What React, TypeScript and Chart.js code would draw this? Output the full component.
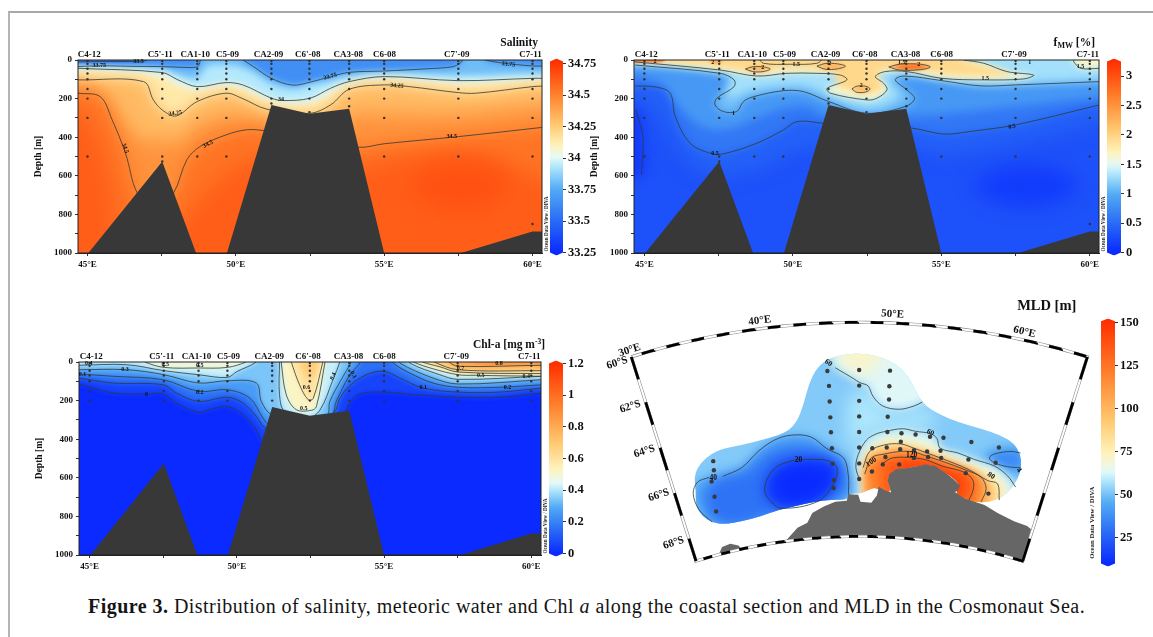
import React, { useEffect, useRef } from 'react';
import { Chart, registerables } from 'chart.js';

type P = [number, number][];

/* ---------- plugin registered first, so the blur is active when Filler paints ---------- */
const fieldPlugin: any = {
  id: 'fieldBlur',
  beforeDatasetDraw(chart: any, args: any) {
    const ds = chart.data.datasets[args.index];
    if (!ds.blurPx && !ds.maskPts) return;
    const ctx = chart.ctx;
    ctx.save();
    if (ds.maskPts) {
      const sx = chart.scales.x, sy = chart.scales.y;
      const pix = ds.maskPts.map(([a, b]: number[]) => [sx.getPixelForValue(a), sy.getPixelForValue(b)]);
      ctx.beginPath();
      const n = pix.length;
      ctx.moveTo((pix[n - 1][0] + pix[0][0]) / 2, (pix[n - 1][1] + pix[0][1]) / 2);
      for (let i = 0; i < n; i++) {
        const q = pix[(i + 1) % n];
        ctx.quadraticCurveTo(pix[i][0], pix[i][1], (pix[i][0] + q[0]) / 2, (pix[i][1] + q[1]) / 2);
      }
      ctx.closePath();
      ctx.clip();
    }
    if (ds.blurPx) ctx.filter = `blur(${ds.blurPx}px)`;
  },
  afterDatasetDraw(chart: any, args: any) {
    const ds = chart.data.datasets[args.index];
    if (!ds.blurPx && !ds.maskPts) return;
    chart.ctx.restore();
  },
};
Chart.register(fieldPlugin);
Chart.register(...registerables);

/* ---------- shared section data ---------- */
const stationNames = ['C4-12', "C5'-11", 'CA1-10', 'C5-09', 'CA2-09', "C6'-08", 'CA3-08', 'C6-08', "C7'-09", 'C7-11'];
const stationLons = [45, 47.52, 48.7, 49.68, 51.2, 52.48, 53.82, 55, 57.5, 60];
const stationLabelLons = [45.06, 47.45, 48.63, 49.72, 51.1, 52.42, 53.79, 55.01, 57.45, 59.93];
const stationDepths = [
  [5, 20, 45, 70, 100, 150, 200, 300, 500],
  [5, 20, 45, 70, 100, 150, 200, 300, 500, 525],
  [5, 20, 45, 70, 100, 150, 200, 300, 500],
  [5, 20, 45, 70, 100, 150, 200, 300, 500],
  [5, 20, 45, 70, 100, 150, 200, 225],
  [5, 20, 45, 70, 100, 150, 200, 270],
  [5, 20, 45, 70, 100, 150, 200, 240],
  [5, 20, 45, 70, 100, 150, 200, 300, 500],
  [5, 20, 45, 70, 100, 150, 200, 300, 500],
  [5, 20, 45, 70, 100, 150, 200, 300, 500, 850],
];
const sectionLonTicks = [45, 47.5, 50, 52.5, 55, 57.5, 60];
const terrainA: P = [[45.03, 1030], [45.03, 1000], [47.52, 526], [48.66, 1000], [48.66, 1030]];
const terrainB: P = [[49.7, 1030], [49.7, 1000], [51.2, 233], [52.48, 279], [53.82, 253], [55, 1000], [55, 1030]];
const terrainC: P = [[57.59, 1030], [57.59, 1000], [60, 888], [60.5, 888], [60.5, 1030]];

/* ---------- salinity ---------- */
const salTicks = [33.25, 33.5, 33.75, 34, 34.25, 34.5, 34.75];
const sal3350: P = [[44.68, 10], [45.5, 8], [46.5, 8], [47, 4]];
const sal3375a: P = [[44.68, 34], [45.5, 30], [46.5, 33], [47.5, 34], [48.2, 38], [48.7, 36], [48.78, 15], [48.8, 0]];
const sal3375b: P = [[50.25, 0], [50.6, 35], [51.2, 95], [51.9, 130], [52.5, 115], [53.2, 86], [53.82, 64], [55, 57], [56.5, 45], [57.3, 35], [57.55, 18], [57.65, 0]];
const sal3375c: P = [[58.4, 0], [58.9, 14], [60, 31], [60.4, 31]];
const sal3390: P = [[44.68, 38], [47.5, 50], [48, 75], [48.7, 95], [49, 35], [49.4, 22], [49.7, 25], [50.2, 40], [50.7, 75], [51.2, 125], [52, 150], [52.5, 130], [53.2, 110], [53.82, 85], [55, 70], [57.5, 80], [60, 70], [60.4, 70]];
const sal3400: P = [[44.68, 43], [47.52, 65], [48.05, 103], [48.7, 138], [49.67, 117], [50.25, 130], [51.2, 198], [51.6, 210], [52.5, 198], [53.2, 146], [53.82, 112], [55, 86], [57.5, 107], [60, 95], [60.4, 95]];
const sal3410: P = [[44.68, 55], [47.5, 85], [48, 125], [48.7, 155], [49.7, 135], [50.25, 150], [51.2, 215], [52.5, 225], [53.2, 175], [53.82, 130], [55, 105], [57.5, 125], [60, 110], [60.4, 110]];
const sal3425: P = [[44.68, 103], [46.89, 112], [47.22, 207], [47.52, 259], [47.99, 290], [48.7, 215], [49.67, 172], [50.2, 198], [51.05, 255], [52.5, 276], [53.2, 232], [53.82, 152], [55, 129], [55.85, 138], [57.5, 169], [58.1, 172], [60, 138], [60.4, 135]];
const sal3440: P = [[44.68, 130], [45.2, 145], [45.8, 230], [46.3, 340], [46.9, 420], [47.5, 410], [48, 430], [48.7, 340], [49.67, 290], [50.3, 290], [51, 320], [53, 380], [54, 280], [55, 280], [57.5, 280], [60.32, 240]];
const sal3450: P = [[44.68, 172], [45.43, 190], [45.83, 310], [46.28, 483], [46.68, 690], [47.3, 780], [47.9, 690], [48.35, 517], [48.8, 448], [49.67, 388], [50.35, 362], [50.9, 365], [52.5, 400], [54.13, 452], [55, 434], [57.5, 397], [60.4, 348]];
const sal3460Left: P = [[43, 230], [44.7, 250], [45, 320], [45.5, 480], [45.9, 800], [45.5, 1200], [43, 1200]];
const sal3460Right: P = [[47.9, 1200], [48, 900], [49, 680], [50, 560], [51, 500], [54, 560], [55, 520], [58, 480], [60.4, 620], [62, 700], [62, 1200]];
const sal3465Core: P = [[55.8, 640], [56.5, 560], [57.5, 530], [58.7, 560], [59.2, 650], [58.4, 760], [57.4, 790], [56.4, 740]];
const salLabels: any[] = [
  [45.4, 26, '33.75'], [46.72, 5, '33.5'], [51.52, 203, '34'], [47.96, 276, '34.25', -8], [46.27, 457, '34.5', 72],
  [49.06, 436, '34.5', -28], [53.18, 86, '33.75', -15], [55.43, 133, '34.25', 5], [59.19, 22, '33.75', 6], [57.28, 397, '34.5'],
];

/* ---------- meteoric water ---------- */
const fmwTicks = [0, 0.5, 1, 1.5, 2, 2.5, 3];
const fmw04: P = [[44.66, 200], [45, 210], [45.5, 300], [46, 430], [46.7, 560], [47.5, 600], [49, 560], [50, 480], [51, 450], [54, 450], [55, 490], [57.5, 430], [60.32, 330]];
const fmw05: P = [[44.69, 134], [45.42, 141], [45.87, 172], [46.04, 293], [46.54, 431], [47.21, 483], [47.66, 486], [48.79, 431], [49.69, 362], [50.14, 319], [51.04, 328], [52.5, 345], [54.01, 353], [55.08, 384], [55.98, 370], [57.5, 336], [60.32, 233]];
const fmw075: P = [[44.66, 85], [45, 90], [45.7, 135], [46, 210], [46.7, 320], [47.3, 360], [48, 350], [48.8, 300], [49.7, 250], [50.5, 240], [51, 280], [53, 300], [54, 290], [55, 280], [57.5, 240], [60.32, 195]];
const fmw10: P = [[44.69, 26], [47.55, 69], [48.02, 103], [48.02, 138], [47.44, 198], [47.38, 233], [47.66, 267], [48.11, 267], [48.34, 215], [48.68, 190], [49.69, 159], [50.36, 164], [51.2, 215], [52.49, 276], [53.79, 241], [54.1, 200], [53.84, 155], [53.45, 103], [53.73, 83], [55.02, 107], [56.31, 134], [57.5, 129], [60.33, 112]];
const fmw125: P = [[44.66, 18], [47.5, 60], [47.9, 95], [47.8, 130], [47.7, 170], [47.9, 200], [48.2, 180], [48.8, 150], [49.7, 135], [50.4, 135], [51, 170], [51.6, 210], [52.5, 250], [53.3, 220], [53.6, 170], [53.2, 110], [53.6, 70], [55, 95], [56.3, 122], [57.5, 118], [60.33, 100]];
const fmw15: P = [[44.63, 9], [47.55, 52], [48.79, 83], [49.8, 69], [50.81, 69], [51.6, 78], [51.82, 103], [51.15, 147], [51.26, 172], [52.5, 207], [52.83, 198], [53.17, 155], [53.06, 121], [52.78, 86], [53.11, 60], [53.84, 60], [55.02, 95], [56.43, 103], [57.78, 98], [58.11, 78], [57.21, 60], [56.43, 17], [55.75, 0]];
const fmw15Cap: P = [[55.75, -40], [59.2, -40], [59.46, 9], [59.69, 43], [60.33, 43]];
const fmw15Pocket: P = [[48.84, -10], [49.01, 17], [49.9, 22], [50.81, 17], [51.04, -10]];
const fmw175: P = [[44.66, 5], [47, 25], [48.5, 55], [50, 45], [51.4, 60], [51.45, 100], [51.6, 140], [52.5, 170], [53, 150], [52.9, 100], [52.85, 70], [53.3, 40], [54, 40], [55, 70], [56.2, 80], [57.3, 70], [56, 15], [55.3, -40]];
const fmwIslandCA1: P = [[48.4, 47], [48.65, 35], [49, 36], [49.24, 47], [49, 60], [48.65, 60]];
const fmwIslandCA2: P = [[50.81, 32], [51.1, 18], [51.5, 20], [51.77, 32], [51.5, 46], [51.1, 48]];
const fmwIslandC6: P = [[51.99, 150], [52.15, 136], [52.45, 136], [52.6, 150], [52.45, 166], [52.15, 167]];
const fmwIslandCA3: P = [[53.23, 36], [53.6, 22], [54.3, 22], [54.63, 36], [54.3, 50], [53.6, 52]];
const fmwCoreCA3: P = [[53.45, 36], [53.8, 27], [54.2, 27], [54.45, 36], [54.2, 46], [53.8, 46]];
const fmwIslandSurf: P = [[43.5, -10], [45.7, -10], [45.6, 8], [45, 12], [43.5, 12]];
const fmwIslandC5: P = [[47.1, -10], [47.62, -10], [47.55, 18], [47.3, 20]];
const fmwLowLeft: P = [[43, 240], [44.75, 258], [44.95, 400], [44.9, 595], [43, 620]];
const fmwLowCore: P = [[56, 650], [56.9, 570], [57.9, 545], [59.1, 580], [59.6, 660], [58.8, 740], [57.8, 765], [56.7, 730]];
const fmwLabels: any[] = [
  [47.38, 483, '0.5'], [48, 276, '1'], [48.99, 40, '2'], [50.11, 22, '1.5'], [51.24, 17, '2'], [52.3, 134, '2'], [47.3, 14, '2'],
  [45.36, 10, '2'], [54.24, 22, '2'], [56.48, 98, '1.5'], [57.38, 345, '0.5', -12], [57.98, 12, '1'], [59.69, 34, '1.5'], [53.67, 12, '1.5'],
];

/* ---------- chlorophyll ---------- */
const chlTicks = [0, 0.2, 0.4, 0.6, 0.8, 1, 1.2];
const chl00: P = [[44.64, 114], [45.8, 161], [46.93, 166], [47.5, 166], [47.95, 213], [48.7, 260], [49.19, 242], [49.68, 230], [50.21, 273], [50.66, 351], [50.87, 408], [51.5, 430], [53.5, 300], [53.84, 213], [54.18, 166], [55, 156], [56.1, 170], [57.51, 183], [58.93, 183], [60.35, 161]];
const chl01: P = [[44.64, 83], [45.8, 109], [47.5, 118], [47.95, 161], [48.7, 204], [49.68, 183], [50.21, 213], [50.66, 282], [50.98, 343], [52, 380], [53.3, 260], [53.5, 187], [53.81, 126], [54.4, 66], [55, 48], [55.53, 83], [56.33, 135], [57.51, 156], [58.93, 156], [60.35, 135]];
const chl02: P = [[44.64, 62], [45.8, 74], [47.5, 92], [48.7, 152], [49.68, 144], [50.44, 187], [50.89, 291], [51.1, 325], [52, 340], [53.2, 280], [53.38, 204], [53.81, 74], [54.18, 5], [54.29, -30], [55.2, -30], [55.31, 5], [55.87, 57], [56.66, 109], [57.51, 131], [58.93, 131], [60.35, 118]];
const chl03: P = [[44.64, 40], [46.25, 40], [47.53, 66], [48.7, 109], [49.68, 97], [50.66, 109], [50.83, 204], [51.17, 273], [52, 310], [53.05, 280], [53.16, 204], [53.55, 90], [53.89, 0], [53.95, -30], [55.42, -30], [55.53, 5], [56.66, 83], [57.51, 114], [60.35, 92]];
const chl04: P = [[44.64, 17], [46.25, 14], [47.53, 45], [48.7, 66], [49.68, 80], [50, 50], [50.66, 0], [50.7, -30], [51.45, -30], [51.45, 0], [51.45, 170], [51.62, 255], [52.4, 290], [52.82, 250], [53.27, 90], [53.5, 0], [53.55, -30], [55.76, -30], [55.87, 5], [56.89, 66], [57.51, 90], [60.35, 74]];
const chl05Left: P = [[46.87, -10], [46.87, 0], [47.53, 28], [48.7, 31], [49.68, 28], [50.32, 0], [50.32, -10]];
const chl05Mid: P = [[51.51, -10], [51.51, 5], [51.68, 170], [52.02, 247], [52.54, 250], [52.7, 232], [52.99, 5], [52.99, -10]];
const chl05Right: P = [[56, -10], [56, 0], [56.66, 35], [57.51, 66], [58.1, 69], [60.35, 74], [62, 74], [62, -10]];
const chl06Mid: P = [[51.85, -10], [51.85, 0], [52.13, 118], [52.42, 195], [52.59, 190], [52.92, 0], [52.92, -10]];
const chl07Mid: P = [[52.13, -10], [52.13, 0], [52.3, 60], [52.47, 100], [52.64, 60], [52.79, 0], [52.79, -10]];
const chl06Right: P = [[56.3, -10], [56.3, 0], [56.9, 25], [57.51, 52], [60.35, 60], [62, 60], [62, -10]];
const chl07Right: P = [[56.7, -10], [56.7, 0], [57.51, 40], [60.35, 45], [62, 45], [62, -10]];
const chl08Right: P = [[57.2, -10], [57.2, 0], [57.51, 22], [60.35, 17], [62, 17], [62, -10]];
const chl09Right: P = [[58, -10], [58, 0], [58.5, 10], [60.35, 8], [62, 8], [62, -10]];
const chlLabels: any[] = [
  [58.9, 10, '0.8'], [57.6, 31, '0.7'], [58.28, 69, '0.5'], [59.83, 74, '0.4'], [59.19, 130, '0.2'], [56.33, 131, '0.1'], [53.95, 66, '0.1', 60],
  [53.27, 74, '0.4', -65], [52.37, 131, '0.6'], [52.27, 239, '0.5'], [44.97, 10, '0.4'], [44.76, 62, '0.1'], [46.2, 40, '0.3'], [46.93, 166, '0'],
  [47.57, 14, '0.5'], [48.74, 17, '0.5'], [48.74, 156, '0.2'],
];

/* ---------- MLD map: positions are map-grid units, three to a pixel ---------- */
const mldTicks = [25, 50, 75, 100, 125, 150];
const mapStations: P = [
  [333, 500], [335, 528], [328, 563], [337, 610], [342, 655], [697, 508], [701, 559], [700, 583],
  [681, 222], [686, 268], [688, 316], [690, 365], [692, 411], [695, 460],
  [778, 219], [778, 267], [778, 314], [778, 362], [778, 410], [778, 458], [778, 507], [778, 555],
  [818, 460], [817, 532], [872, 221], [870, 269], [869, 310], [865, 363], [864, 410], [907, 414], [950, 418], [994, 425],
  [1035, 428], [1120, 441], [1204, 458], [1194, 505], [905, 440], [862, 458], [903, 463], [945, 466], [985, 470], [1026, 468],
  [858, 487], [945, 490], [988, 487], [1028, 490], [1111, 495], [850, 510], [900, 510], [1103, 537], [1172, 600],
];
const mapBlob: P = [
  [280, 590], [275, 550], [285, 520], [310, 490], [350, 465], [420, 450], [500, 430], [560, 410], [590, 375], [610, 320], [625, 260],
  [650, 210], [690, 180], [750, 168], [800, 170], [840, 178], [890, 200], [930, 240], [955, 295], [980, 330], [1020, 355], [1080, 380],
  [1150, 400], [1210, 420], [1250, 445], [1270, 480], [1273, 520], [1260, 560], [1230, 600], [1190, 622], [1150, 628], [1115, 622],
  [1070, 600], [1085, 575], [1070, 555], [1040, 535], [1010, 515], [980, 510], [930, 520], [890, 525], [870, 540], [865, 560], [875, 600],
  [840, 590], [825, 580], [805, 590], [780, 600], [750, 600], [740, 620], [700, 618], [640, 625], [580, 640], [530, 650], [480, 670],
  [420, 685], [370, 695], [330, 690], [300, 670], [280, 640],
];
const mapLand: P = [
  [555, 745], [590, 705], [620, 690], [635, 660], [670, 640], [705, 625], [740, 622], [745, 602], [775, 604], [782, 625], [815, 628],
  [832, 606], [838, 578], [855, 590], [875, 597], [865, 560], [870, 540], [890, 525], [930, 520], [980, 510], [1010, 515], [1040, 535],
  [1065, 555], [1085, 575], [1080, 590], [1070, 595], [1100, 615], [1130, 625], [1160, 635], [1200, 660], [1250, 685], [1290, 700], [1302, 710],
];
const mapIsland: P = [[350, 788], [360, 765], [385, 755], [410, 760], [420, 772], [385, 782]];
const mld56: P = [[740, 400], [750, 300], [800, 280], [850, 340], [900, 350], [1000, 340], [1000, 390], [850, 405], [790, 430], [770, 480], [750, 470]];
const mld60Top: P = [[705, 212], [760, 245], [780, 258], [805, 268], [820, 300], [850, 330], [900, 340], [945, 330], [970, 318]];
const mld60Close: P = [[1000, 300], [960, 150], [760, 100], [680, 150]];
const mld68Top: P = [[700, 150], [740, 210], [800, 230], [830, 200], [860, 150], [780, 120]];
const mld40West: P = [[362, 547], [420, 520], [470, 470], [520, 435], [570, 420], [630, 425], [680, 462], [730, 490], [745, 545], [745, 605]];
const mld40WestB: P = [[330, 688], [290, 650], [272, 600], [285, 565], [320, 550]];
const mld32West: P = [[300, 600], [350, 550], [430, 530], [500, 470], [600, 450], [700, 480], [735, 530], [735, 600], [640, 640], [500, 670], [400, 700], [320, 680]];
const mld20West: P = [[580, 497], [620, 495], [680, 498], [710, 520], [700, 570], [650, 625], [540, 645], [505, 620], [490, 590], [500, 550], [530, 515]];
const mld12West: P = [[550, 520], [640, 510], [695, 535], [675, 590], [600, 625], [530, 610], [515, 565]];
const mld45East: P = [[1190, 460], [1150, 490], [1190, 520], [1280, 540], [1290, 450]];
const mld40East: P = [[1270, 475], [1240, 470], [1190, 478], [1175, 490], [1190, 505], [1230, 517], [1270, 520]];
const mld60South: P = [[780, 560], [768, 520], [775, 480], [800, 435], [830, 416], [860, 408], [910, 400], [950, 408], [995, 415], [1015, 430], [1025, 460], [1080, 475], [1130, 495], [1190, 515], [1230, 545], [1255, 580]];
const mld70South: P = [[800, 540], [795, 490], [830, 450], [860, 430], [950, 435], [1010, 455], [1040, 478], [1130, 510], [1190, 535], [1220, 570], [1230, 640], [800, 650]];
const mld80South: P = [[790, 520], [810, 470], [855, 450], [905, 447], [945, 460], [985, 475], [1025, 490], [1110, 525], [1170, 560], [1200, 570], [1205, 620]];
const mld90South: P = [[795, 535], [812, 480], [855, 465], [905, 458], [945, 466], [985, 480], [1028, 495], [1110, 528], [1160, 555], [1185, 590], [1180, 625], [1180, 660], [800, 660]];
const mld100South: P = [[795, 540], [815, 490], [855, 478], [905, 470], [945, 472], [985, 485], [1030, 500], [1110, 530], [1150, 550], [1165, 585], [1150, 625]];
const mld110South: P = [[805, 530], [820, 505], [860, 490], [905, 482], [945, 482], [985, 492], [1030, 508], [1105, 533], [1138, 555], [1145, 590], [1130, 640], [820, 640]];
const mld120South: P = [[845, 510], [880, 490], [945, 490], [985, 497], [1030, 515], [1100, 535], [1125, 560], [1125, 590], [1110, 625]];
const mld130South: P = [[890, 515], [945, 500], [1000, 508], [1050, 530], [1090, 550], [1100, 580], [1085, 610], [900, 600]];
const mldLabels: any[] = [[333, 552, '40'], [593, 498, '20'], [684, 197, '60', 35], [995, 412, '60', 25], [815, 503, '100', -35], [938, 482, '120'], [1180, 545, '80', 35], [1265, 528, '4', 50]];
const mapAxisLabels: any[] = [
  [78, 158, '30°E', -18], [475, 67, '40°E', -7], [880, 47, '50°E', 4], [1282, 102, '60°E', 13],
  [40, 197, '60°S', -18], [80, 332, '62°S', -18], [123, 470, '64°S', -18], [167, 605, '66°S', -18], [212, 752, '68°S', -18],
];

/* ---------- helpers ---------- */
const SERIF = '"Liberation Serif"';
const baseStops: [number, number[]][] = [
  [0, [10, 42, 255]], [0.17, [42, 108, 245]], [0.33, [82, 170, 245]], [0.45, [176, 232, 252]], [0.5, [230, 249, 247]],
  [0.56, [255, 243, 187]], [0.67, [255, 200, 112]], [0.83, [255, 127, 42]], [1, [255, 48, 0]],
];
function cmap(v: number, lo: number, hi: number, pale: number) {
  const t = Math.min(1, Math.max(0, (v - lo) / (hi - lo)));
  const s = t < pale ? (0.5 * t) / pale : 0.5 + (0.5 * (t - pale)) / (1 - pale);
  for (let i = 1; i < baseStops.length; i++) {
    if (s <= baseStops[i][0]) {
      const [a, ca] = baseStops[i - 1];
      const [b, cb] = baseStops[i];
      const f = (s - a) / (b - a);
      return `rgb(${ca.map((c, k) => Math.round(c + (cb[k] - c) * f)).join(',')})`;
    }
  }
  return 'rgb(255,48,0)';
}
const toXY = (p: P) => p.map(([x, y]) => ({ x, y }));
const below = (p: P): P => [[43, p[0][1]], ...p, [62, p[p.length - 1][1]], [62, 1500], [43, 1500]];
const above = (p: P): P => [[43, p[0][1]], ...p, [62, p[p.length - 1][1]], [62, -300], [43, -300]];
const fillDs = (pts: P, color: string, blur: number, mask?: P) => ({
  data: toXY(pts), showLine: true, fill: 'shape', backgroundColor: color, borderWidth: 0, pointRadius: 0,
  tension: blur ? 0.35 : 0, capBezierPoints: false, blurPx: blur, maskPts: mask,
});
const lineDs = (pts: P, width = 0.8, color = '#2f3b38') => ({
  data: toXY(pts), showLine: true, fill: false, borderColor: color, borderWidth: width, pointRadius: 0, tension: 0.35, capBezierPoints: false,
});
function drawLabel(ctx: any, x: number, y: number, text: string, rot: number, font: string, color = '#111') {
  ctx.save();
  ctx.translate(x, y);
  ctx.rotate((rot * Math.PI) / 180);
  ctx.font = font;
  ctx.fillStyle = color;
  ctx.textAlign = 'center';
  ctx.textBaseline = 'middle';
  ctx.fillText(text, 0, 0);
  ctx.restore();
}
function drawRuns(ctx: any, right: number, base: number, runs: any[]) {
  ctx.save();
  ctx.textAlign = 'left';
  ctx.textBaseline = 'alphabetic';
  ctx.fillStyle = '#111';
  let w = 0;
  runs.forEach((r) => { ctx.font = `bold ${r.size}px ${SERIF}`; w += ctx.measureText(r.t).width; });
  let x = right - w;
  runs.forEach((r) => {
    ctx.font = `bold ${r.size}px ${SERIF}`;
    ctx.fillText(r.t, x, base + (r.dy || 0));
    x += ctx.measureText(r.t).width;
  });
  ctx.restore();
}

const PAD = { top: 22, left: 8, right: 12, bottom: 4 };
const YW = 45, TOPH = 16, BOTH = 22;
const axisFont = { family: SERIF, size: 9, weight: 'bold' };

function sectionConfig(s: any) {
  const paint: any[] = [];
  const col = (v: number) => cmap(v, s.lo, s.hi, s.pale);
  paint.push(fillDs([[43, -300], [62, -300], [62, 1500], [43, 1500]], col(s.base), 0));
  s.layers.forEach(([pts, v, blur]: any[]) => paint.push(fillDs(pts, col(v), blur === undefined ? s.blur : blur)));
  s.contours.forEach((c: P) => paint.push(lineDs(c)));
  [terrainA, terrainB, terrainC].forEach((t) => paint.push(fillDs(t, '#383838', 0)));
  const dots: P = [];
  stationLons.forEach((lon, i) => stationDepths[i].forEach((d) => { if (d <= s.maxDepth) dots.push([lon, d]); }));
  paint.push({ data: toXY(dots), pointRadius: 1.2, pointBackgroundColor: '#333', pointBorderWidth: 0, showLine: false });

  const overlay = {
    id: 'overlay' + s.id,
    afterDatasetsDraw(chart: any) {
      const { ctx, chartArea: a, scales } = chart;
      ctx.save();
      ctx.strokeStyle = '#222';
      ctx.lineWidth = 1;
      ctx.strokeRect(a.left, a.top, a.right - a.left, a.bottom - a.top);
      ctx.restore();
      s.labels.forEach(([x, y, t, r]: any[]) =>
        drawLabel(ctx, scales.x.getPixelForValue(x), scales.y.getPixelForValue(y), t, r || 0, `bold 6px ${SERIF}`));
      drawRuns(ctx, a.right + s.titleDx, a.top - 14, s.title);
      drawLabel(ctx, a.right + 5, a.bottom - 29, 'Ocean Data View / DIVA', -90, `bold 5.2px ${SERIF}`, '#222');
    },
  };
  return {
    type: 'scatter',
    data: { datasets: paint.reverse() },
    plugins: [overlay],
    options: {
      animation: false, responsive: false, devicePixelRatio: 1, events: [],
      layout: { padding: PAD },
      plugins: { legend: { display: false }, tooltip: { enabled: false } },
      scales: {
        x: {
          type: 'linear', position: 'bottom', min: s.xMin, max: s.xMax,
          afterBuildTicks(sc: any) { sc.ticks = sectionLonTicks.map((value) => ({ value })); },
          afterFit(sc: any) { sc.height = BOTH; },
          ticks: { autoSkip: false, maxRotation: 0, minRotation: 0, padding: 3, color: '#111', font: axisFont, callback: (v: number) => (v % 5 === 0 ? `${v}°E` : '') },
          grid: { drawOnChartArea: false, tickLength: 3, color: '#333' },
          border: { color: '#222' },
        },
        xTop: {
          type: 'linear', axis: 'x', position: 'top', min: s.xMin, max: s.xMax,
          afterBuildTicks(sc: any) { sc.ticks = stationLabelLons.map((value) => ({ value })); },
          afterFit(sc: any) { sc.height = TOPH; },
          ticks: { autoSkip: false, maxRotation: 0, minRotation: 0, padding: 0, color: '#111', font: axisFont, callback: (_v: number, i: number) => stationNames[i] },
          grid: { display: false, drawTicks: false },
          border: { display: false },
        },
        y: {
          type: 'linear', position: 'left', reverse: true, min: 0, max: 1000,
          afterFit(sc: any) { sc.width = YW; },
          ticks: { stepSize: 100, autoSkip: false, padding: 3, color: '#111', font: axisFont, callback: (v: number) => (v % 200 === 0 ? String(v) : '') },
          grid: { drawOnChartArea: false, tickLength: 3, color: '#333' },
          border: { color: '#222' },
          title: { display: true, text: 'Depth [m]', color: '#111', padding: 0, font: { family: SERIF, size: 9.5, weight: 'bold' } },
        },
      },
    },
  };
}

const salSection = {
  id: 'sal', lo: 33.25, hi: 34.75, pale: 0.5, base: 33.5, blur: 3.5, maxDepth: 1000, xMin: 44.68, xMax: 60.32, titleDx: -4,
  title: [{ t: 'Salinity', size: 11.5 }], labels: salLabels,
  layers: [
    [[[43, 14], [46.5, 10], [47.2, -50], [62, -50], [62, 1500], [43, 1500]], 33.64],
    [below([...sal3375a, [48.82, -50], [50.2, -50], ...sal3375b, [57.7, -50], [58.35, -50], ...sal3375c]), 33.8],
    [below(sal3390), 33.93], [below(sal3400), 34.0], [below(sal3410), 34.13], [below(sal3425), 34.3, 7], [below(sal3440), 34.43, 9], [below(sal3450), 34.53, 9],
    [sal3460Left, 34.6, 10], [sal3460Right, 34.6, 10], [sal3465Core, 34.64, 10],
  ],
  contours: [sal3350, sal3375a, sal3375b, sal3375c, sal3400, sal3425, sal3450],
};
const fmwSection = {
  id: 'fmw', lo: 0, hi: 3.25, pale: 0.46, base: 0.3, blur: 5, maxDepth: 1000, xMin: 44.65, xMax: 60.31, titleDx: -4,
  title: [{ t: 'f', size: 11.5 }, { t: 'MW', size: 8, dy: 2 }, { t: ' [%]', size: 11.5 }], labels: fmwLabels,
  layers: [
    [fmwLowLeft, 0.12, 6], [fmwLowCore, 0.14, 9],
    [above(fmw04), 0.42, 9], [above(fmw05), 0.6], [above(fmw075), 0.85], [above(fmw10), 1.1], [above(fmw125), 1.3],
    [above([...fmw15, ...fmw15Cap]), 1.65, 3], [fmw15Pocket, 1.3, 2], [above([...fmw175, [61, -40]]), 1.95, 3],
    [fmwIslandCA1, 2.3, 2], [fmwIslandCA2, 2.3, 2], [fmwIslandC6, 2.2, 2], [fmwIslandCA3, 2.45, 1.5], [fmwCoreCA3, 2.75, 1.5], [fmwIslandSurf, 2.8, 1], [fmwIslandC5, 2.3, 1.5],
  ],
  contours: [
    [[44.72, 258], [44.95, 400], [44.9, 595]], fmw05, fmw10, fmw15, [[59.46, 0], [59.46, 9], [59.69, 43], [60.33, 43]], fmw15Pocket,
    [...fmwIslandCA1, fmwIslandCA1[0]], [...fmwIslandCA2, fmwIslandCA2[0]], [...fmwIslandC6, fmwIslandC6[0]], [...fmwIslandCA3, fmwIslandCA3[0]],
  ],
};
const chlSection = {
  id: 'chl', lo: 0, hi: 1.2, pale: 0.37, base: 0.0, blur: 2.5, maxDepth: 200, xMin: 44.64, xMax: 60.33, titleDx: 4,
  title: [{ t: 'Chl-a [mg m', size: 11.5 }, { t: '-3', size: 7.5, dy: -4 }, { t: ']', size: 11.5 }], labels: chlLabels,
  layers: [
    [above(chl00), 0.06], [above(chl01), 0.16], [above(chl02), 0.26], [above(chl03), 0.34], [above(chl04), 0.42],
    [chl05Left, 0.5], [chl05Mid, 0.52], [chl05Right, 0.52], [chl06Mid, 0.6], [chl07Mid, 0.68], [chl06Right, 0.62], [chl07Right, 0.72], [chl08Right, 0.82], [chl09Right, 0.92],
  ],
  contours: [chl00, chl01, chl02, chl03, chl04, chl05Left, chl05Mid, chl05Right, chl06Mid, chl06Right, chl07Right, chl08Right],
};

/* ---------- colour bars ---------- */
function barConfig(b: any) {
  const poly: P = [[0, b.bodyLo], [0.5, b.min], [1, b.bodyLo], [1, b.bodyHi], [0.5, b.max], [0, b.bodyHi]];
  const ds: any = {
    data: toXY(poly), showLine: true, fill: 'shape', borderWidth: 0, pointRadius: 0, tension: 0,
    backgroundColor(ctx: any) {
      const ch = ctx.chart;
      if (!ch.chartArea || !ch.scales.y) return '#888';
      const y0 = ch.scales.y.getPixelForValue(b.bodyLo), y1 = ch.scales.y.getPixelForValue(b.bodyHi);
      const g = ch.ctx.createLinearGradient(0, y0, 0, y1);
      for (let i = 0; i <= 40; i++) g.addColorStop(i / 40, cmap(b.bodyLo + ((b.bodyHi - b.bodyLo) * i) / 40, b.bodyLo, b.bodyHi, b.pale));
      return g;
    },
  };
  return {
    type: 'scatter',
    data: { datasets: [ds] },
    options: {
      animation: false, responsive: false, devicePixelRatio: 1, events: [],
      layout: { padding: { top: 8, bottom: 8, left: 1, right: 0 } },
      plugins: { legend: { display: false }, tooltip: { enabled: false } },
      scales: {
        x: { type: 'linear', display: false, min: 0, max: 1 },
        y: {
          type: 'linear', position: 'right', min: b.min, max: b.max,
          afterBuildTicks(sc: any) { sc.ticks = b.ticks.map((value: number) => ({ value })); },
          afterFit(sc: any) { sc.width = 38; },
          ticks: { autoSkip: false, padding: 2, color: '#111', font: { family: SERIF, size: 12.5, weight: 'bold' }, callback: (v: number) => String(v) },
          grid: { drawOnChartArea: false, tickLength: 3, color: '#333' },
          border: { display: false },
        },
      },
    },
  };
}
const bars = [
  { left: 550, right: 563, top: 57, bottom: 257, min: 33.227, max: 34.79, bodyLo: 33.25, bodyHi: 34.766, ticks: salTicks, pale: 0.5 },
  { left: 1107, right: 1121, top: 57, bottom: 257, min: -0.05, max: 3.3, bodyLo: 0, bodyHi: 3.25, ticks: fmwTicks, pale: 0.46 },
  { left: 549, right: 563, top: 359, bottom: 558, min: -0.0187, max: 1.2187, bodyLo: 0, bodyHi: 1.2, ticks: chlTicks, pale: 0.37 },
  { left: 1101, right: 1115, top: 317, bottom: 568, min: 8.3, max: 152.6, bodyLo: 10, bodyHi: 151, ticks: mldTicks, pale: 0.38 },
];

/* ---------- map ---------- */
const MAP_W = 500, MAP_H = 295;
const MAP_CX = 778.5, MAP_CY = 2397;
function proj(lon: number, lat: number): [number, number] {
  const th = ((lon - 45) * 1.16 * Math.PI) / 180;
  const r = 2325 - (-60 - lat) * 82.5;
  return [MAP_CX + r * Math.sin(th), MAP_CY - r * Math.cos(th)];
}
function mapConfig() {
  const col = (v: number) => cmap(v, 10, 151, 0.38);
  const B = 5;
  const field = (p: P, v: number, blur = B) => fillDs(p, col(v), blur, mapBlob);
  const paint: any[] = [];
  paint.push(field([[0, 0], [1500, 0], [1500, 900], [0, 900]], 52, 0));
  paint.push(field(mld56, 58, 9));
  paint.push(field([...mld60Top, ...mld60Close], 63));
  paint.push(field(mld68Top, 72, 8));
  paint.push(field([...mld40West, [640, 660], [420, 720], ...mld40WestB], 44));
  paint.push(field(mld32West, 30, 7));
  paint.push(field(mld20West, 15, 6));
  paint.push(field(mld12West, 10, 8));
  paint.push(field(mld45East, 45, 6));
  paint.push(field(mld40East, 36, 5));
  paint.push(field([...mld60South, [1260, 660], [780, 660]], 62));
  paint.push(field(mld70South, 72));
  paint.push(field([...mld80South, [1205, 660], [790, 660]], 84, 4));
  paint.push(field(mld90South, 98, 4));
  paint.push(field([...mld100South, [1150, 660], [800, 660]], 110, 4));
  paint.push(field(mld110South, 122, 4));
  paint.push(field([...mld120South, [850, 625]], 134, 4));
  paint.push(field(mld130South, 144, 4));
  [[...mld40West], mld40WestB, [...mld20West, mld20West[0]], mld60Top, mld60South, mld80South, mld100South, mld120South, [...mld40East]].forEach((c: P) =>
    paint.push(lineDs(c, 0.8)));

  // land, closed along the 68°S edge of the frame
  const arc: P = [];
  for (let lon = 60; lon >= 38.3; lon -= 0.5) arc.push(proj(lon, -68));
  paint.push(fillDs([...mapLand, ...arc], '#666666', 0));
  paint.push(fillDs(mapIsland, '#666666', 0));

  paint.push({ data: toXY(mapStations), pointRadius: 2.2, pointBackgroundColor: '#3a3a3a', pointBorderWidth: 0, showLine: false });

  // frame
  const outline: P = [];
  for (let lon = 30; lon <= 60; lon += 0.5) outline.push(proj(lon, -60));
  for (let lat = -60; lat >= -68; lat -= 1) outline.push(proj(60, lat));
  for (let lon = 60; lon >= 30; lon -= 0.5) outline.push(proj(lon, -68));
  for (let lat = -68; lat <= -60; lat += 1) outline.push(proj(30, lat));
  const frameLine = (data: any[], color: string, width: number) => ({
    data, showLine: true, fill: false, borderColor: color, borderWidth: width, pointRadius: 0, tension: 0, spanGaps: false, borderCapStyle: 'butt', clip: false,
  });
  paint.push(frameLine(toXY(outline), '#8a8a8a', 3.2));
  paint.push(frameLine(toXY(outline), '#ffffff', 2.0));
  const dash: any[] = [];
  const gap = { x: NaN, y: NaN };
  for (let k = 0; k < 18; k++) {
    const a = 30.7 + k * 1.67;
    if (a >= 60) break;
    const b = Math.min(a + 0.83, 60);
    [-60, -68].forEach((lat) => {
      for (let l = a; l < b; l += 0.2) dash.push(toXY([proj(l, lat)])[0]);
      dash.push(toXY([proj(b, lat)])[0]);
      dash.push(gap);
    });
  }
  for (let k = 0; k < 5; k++) {
    const a = -60 - k * 1.78, b = Math.max(a - 0.88, -68);
    [30, 60].forEach((lon) => {
      dash.push(toXY([proj(lon, a)])[0]);
      dash.push(toXY([proj(lon, b)])[0]);
      dash.push(gap);
    });
  }
  paint.push(frameLine(dash, '#000000', 2.8));

  const overlay = {
    id: 'mapOverlay',
    afterDatasetsDraw(chart: any) {
      const { ctx, scales } = chart;
      const px = (x: number) => scales.x.getPixelForValue(x), py = (y: number) => scales.y.getPixelForValue(y);
      mldLabels.forEach(([x, y, t, r]: any[]) => drawLabel(ctx, px(x), py(y), t, r || 0, `bold 7.5px ${SERIF}`));
      mapAxisLabels.forEach(([x, y, t, r]: any[]) => drawLabel(ctx, px(x), py(y), t, r || 0, `bold 11px ${SERIF}`));
      drawRuns(ctx, px(1440), py(33), [{ t: 'MLD [m]', size: 14.5 }]);
      drawLabel(ctx, px(1490), py(690), 'Ocean Data View / DIVA', -90, `bold 6.8px ${SERIF}`, '#222');
    },
  };
  return {
    type: 'scatter',
    data: { datasets: paint.reverse() },
    plugins: [overlay],
    options: {
      animation: false, responsive: false, devicePixelRatio: 1, events: [],
      layout: { padding: 0 },
      plugins: { legend: { display: false }, tooltip: { enabled: false } },
      scales: {
        x: { type: 'linear', display: false, min: 0, max: MAP_W * 3 },
        y: { type: 'linear', display: false, reverse: true, min: 0, max: MAP_H * 3 },
      },
    },
  };
}

/* ---------- components ---------- */
function Panel({ left, top, width, height, build }: any) {
  const ref = useRef<HTMLCanvasElement>(null);
  useEffect(() => {
    const chart = new Chart(ref.current as any, build());
    return () => chart.destroy();
  }, []);
  return <canvas ref={ref} width={width} height={height} style={{ position: 'absolute', left, top, width, height, display: 'block' }} />;
}
const sectionBox = (L: number, R: number, T: number, B: number) => ({
  left: L - YW - PAD.left,
  top: T - TOPH - PAD.top,
  width: R - L + YW + PAD.left + PAD.right,
  height: B - T + TOPH + PAD.top + BOTH + PAD.bottom,
});
const barBox = (b: any) => ({ left: b.left - 1, top: b.top - 8, width: b.right - b.left + 1 + 38, height: b.bottom - b.top + 16 });

export default function App() {
  return (
    <div style={{ position: 'fixed', left: 0, top: 0, width: 1153, height: 637, background: '#fff', overflow: 'hidden' }}>
      <div style={{ position: 'absolute', left: 8, top: 11, width: 1145, height: 626, borderLeft: '2px solid #b4b4b4', borderTop: '2px solid #a8a8a8' }} />
      <Panel {...sectionBox(78, 542, 60, 253)} build={() => sectionConfig(salSection)} />
      <Panel {...sectionBox(634, 1099, 60, 253)} build={() => sectionConfig(fmwSection)} />
      <Panel {...sectionBox(79, 541, 362, 555)} build={() => sectionConfig(chlSection)} />
      <Panel left={600} top={295} width={MAP_W} height={MAP_H} build={mapConfig} />
      {bars.map((b, i) => (
        <Panel key={i} {...barBox(b)} build={() => barConfig(b)} />
      ))}
      <div style={{ position: 'absolute', left: 88, top: 594, whiteSpace: 'nowrap', fontFamily: SERIF, fontSize: 20, letterSpacing: '0.46px', lineHeight: '24px', color: '#151515' }}>
        <b>Figure 3.</b> Distribution of salinity, meteoric water and Chl <i>a</i> along the coastal section and MLD in the Cosmonaut Sea.
      </div>
    </div>
  );
}
